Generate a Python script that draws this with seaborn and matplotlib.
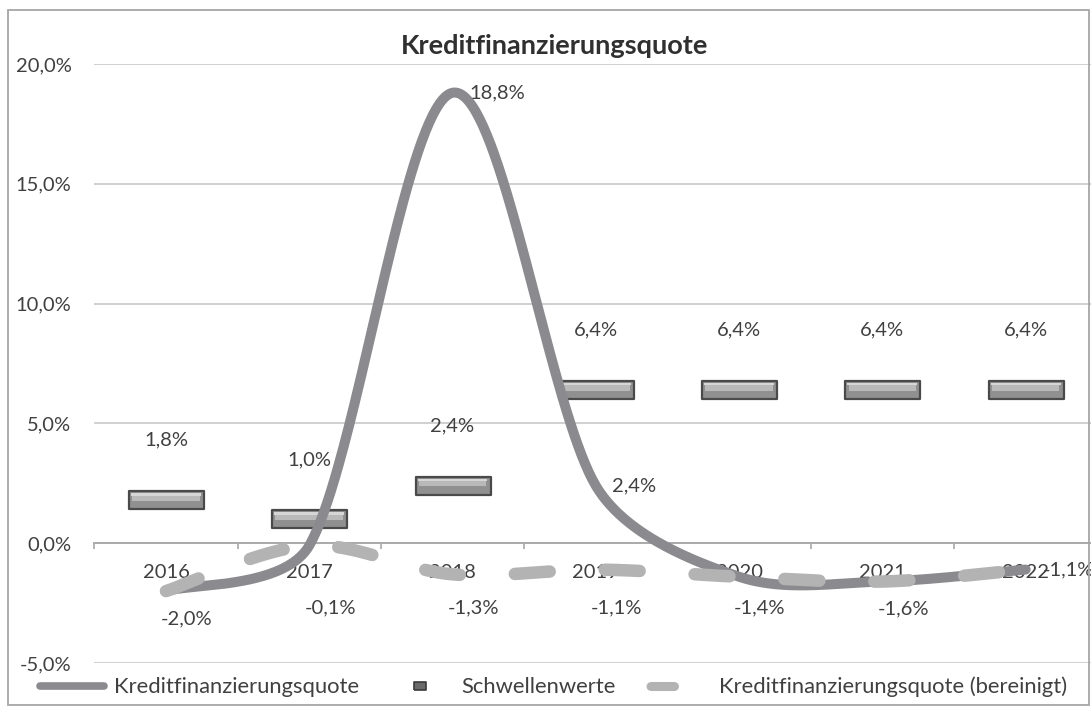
import numpy as np
import pandas as pd
import matplotlib
matplotlib.use("Agg")
import matplotlib.pyplot as plt
import seaborn as sns
from matplotlib.path import Path
from matplotlib.lines import Line2D
from matplotlib.patches import Rectangle
from matplotlib.ticker import FuncFormatter

# ---------------- data ----------------
years = ["2016", "2017", "2018", "2019", "2020", "2021", "2022"]
quote = [-2.0, -0.1, 18.8, 2.4, -1.4, -1.6, -1.1]
quote_bereinigt = [-2.0, -0.1, -1.3, -1.1, -1.4, -1.6, -1.1]
schwellenwerte = [1.8, 1.0, 2.4, 6.4, 6.4, 6.4, 6.4]
quote_label_idx = [2, 3, 6]
bereinigt_label_idx = [0, 1, 2, 3, 4, 5]
yticks = [-5, 0, 5, 10, 15, 20]
title = "Kreditfinanzierungsquote"
series_names = ["Kreditfinanzierungsquote", "Schwellenwerte",
                "Kreditfinanzierungsquote (bereinigt)"]

# ---------------- style ----------------
W, H = 1091, 708
sns.set_theme(style="white")
plt.rcParams["font.family"] = ["Lato", "DejaVu Sans"]
TXT = "#404040"
C_MAIN = "#8b8b8f"
C_DASH = "#b3b3b3"
C_BAR = "#909090"
C_BAR_EDGE = "#4a4a4a"
FS = 14.5

left_px, right_px, top_px, bot_px = 94.3, 1097.3, 64, 663
PX_X = (right_px - left_px) / len(years)
PX_Y = (bot_px - top_px) / (yticks[-1] - yticks[0])


def fmt(v):
    return f"{v:.1f}%".replace(".", ",")


def smooth(vals, n=80):
    """Excel-like smoothed line: Bezier segments with 1/6 tangents,
    limited to a third of the segment length (computed in screen space)."""
    p = np.array(vals, float)
    x = np.arange(len(p), dtype=float)
    pts = np.column_stack([x * PX_X, p * PX_Y])
    out = []
    m = len(pts)
    t = np.linspace(0, 1, n)[:, None]
    for i in range(m - 1):
        p0, p1 = pts[i], pts[i + 1]
        pm = pts[i - 1] if i > 0 else pts[i]
        pp = pts[i + 2] if i + 2 < m else pts[i + 1]
        chord = np.linalg.norm(p1 - p0)
        d1 = (p1 - pm) / 6.0
        d2 = (pp - p0) / 6.0
        for d in (d1, d2):
            L = np.linalg.norm(d)
            if L > chord / 3.0 and L > 0:
                d *= (chord / 3.0) / L
        b1 = p0 + d1
        b2 = p1 - d2
        seg = ((1 - t) ** 3) * p0 + 3 * ((1 - t) ** 2) * t * b1 \
            + 3 * (1 - t) * t ** 2 * b2 + t ** 3 * p1
        out.append(seg if i == 0 else seg[1:])
    arr = np.vstack(out)
    return pd.DataFrame({"x": arr[:, 0] / PX_X, "y": arr[:, 1] / PX_Y})


fig = plt.figure(figsize=(W / 100, H / 100), dpi=100)
fig.patch.set_facecolor("white")

ax = fig.add_axes([left_px / W, 1 - bot_px / H,
                   (right_px - left_px) / W, (bot_px - top_px) / H])
ax.set_facecolor("none")

xpos = np.arange(len(years))

# Schwellenwerte as bevelled horizontal bars (custom rectangle markers)
bar_verts = [(-1, -0.227), (1, -0.227), (1, 0.227), (-1, 0.227), (-1, -0.227)]
bar_path = Path(bar_verts, [Path.MOVETO] + [Path.LINETO] * 3 + [Path.CLOSEPOLY])
MS = 54.0
df_s = pd.DataFrame({"x": xpos, "y": schwellenwerte})
sns.scatterplot(data=df_s, x="x", y="y", marker=bar_path, s=MS ** 2,
                color=C_BAR, edgecolor=C_BAR_EDGE, linewidth=1.6,
                ax=ax, zorder=3, legend=False)
hi_verts = [(-0.9, -0.02), (0.9, -0.02), (0.9, 0.12), (-0.9, 0.12), (-0.9, -0.02)]
hi_path = Path(hi_verts, [Path.MOVETO] + [Path.LINETO] * 3 + [Path.CLOSEPOLY])
sns.scatterplot(data=df_s, x="x", y="y", marker=hi_path, s=(MS * 0.9) ** 2,
                color="#b9b9b9", edgecolor="none", linewidth=0,
                ax=ax, zorder=3.1, legend=False)
hi2_verts = [(-0.93, 0.12), (0.93, 0.12), (0.93, 0.19), (-0.93, 0.19), (-0.93, 0.12)]
hi2_path = Path(hi2_verts, [Path.MOVETO] + [Path.LINETO] * 3 + [Path.CLOSEPOLY])
sns.scatterplot(data=df_s, x="x", y="y", marker=hi2_path, s=(MS * 0.93) ** 2,
                color="#d6d6d6", edgecolor="none", linewidth=0,
                ax=ax, zorder=3.2, legend=False)

# main smoothed line
sns.lineplot(data=smooth(quote), x="x", y="y", sort=False, estimator=None,
             color=C_MAIN, linewidth=7.2, solid_capstyle="round",
             solid_joinstyle="round", ax=ax, zorder=4)
# adjusted smoothed dashed line
sns.lineplot(data=smooth(quote_bereinigt), x="x", y="y", sort=False,
             estimator=None, color=C_DASH, linewidth=9,
             linestyle=(0, (2.8, 4.4)), dash_capstyle="round",
             ax=ax, zorder=5)

# labels
for i, v in enumerate(schwellenwerte):
    ax.annotate(fmt(v), (i, v), xytext=(0, 43), textcoords="offset points",
                ha="center", va="center", fontsize=FS, color=TXT, zorder=6)
for i in bereinigt_label_idx:
    v = quote_bereinigt[i]
    ax.annotate(fmt(v), (i, min(v - 1.15, -2.7)), xytext=(15, 0),
                textcoords="offset points", ha="center", va="center",
                fontsize=FS, color=TXT, zorder=6)
for i in quote_label_idx:
    ax.annotate(fmt(quote[i]), (i, quote[i]), xytext=(12, 0),
                textcoords="offset points", ha="left", va="center",
                fontsize=FS, color=TXT, zorder=6)

# axes
ax.set_xlim(-0.5, len(years) - 0.5)
ax.set_ylim(yticks[0], yticks[-1])
ax.set_yticks(yticks)
ax.yaxis.set_major_formatter(FuncFormatter(lambda v, p: fmt(v)))
ax.yaxis.grid(True, color="#c4c4c4", linewidth=1.1)
ax.set_axisbelow(True)
for s in ["left", "right", "top"]:
    ax.spines[s].set_visible(False)
ax.spines["bottom"].set_position(("data", 0))
ax.spines["bottom"].set_color("#a8a8a8")
ax.spines["bottom"].set_linewidth(1.3)
ax.set_xticks(xpos)
ax.set_xticklabels(years)
ax.set_xticks(np.arange(-0.5, len(years), 1.0), minor=True)
ax.tick_params(axis="x", which="major", length=0, pad=15, labelsize=FS,
               labelcolor=TXT)
ax.tick_params(axis="x", which="minor", length=4.5, width=1.2,
               color="#a8a8a8", direction="out", bottom=True)
ax.tick_params(axis="y", length=0, pad=16.5, labelsize=FS, labelcolor=TXT)
for lab in ax.get_yticklabels():
    lab.set_horizontalalignment("right")
ax.set_xlabel("")
ax.set_ylabel("")

# title
fig.text(555 / W, 1 - 46 / H, title, ha="center", va="center",
         fontsize=19.5, fontweight="bold", color="#303030")

# legend
h_main = Line2D([], [], color=C_MAIN, linewidth=5.5, solid_capstyle="round")
h_bar = Line2D([], [], linestyle="none", marker=Path(
    [(-1, -0.8), (1, -0.8), (1, 0.8), (-1, 0.8), (-1, -0.8)]),
    markersize=8, markerfacecolor="#6a6a6a", markeredgecolor="#3a3a3a",
    markeredgewidth=1.2)
h_dash = Line2D([], [], color=C_DASH, linewidth=6.5,
                linestyle=(12.1, (2.6, 10)), dash_capstyle="round")
LFS = 15.8
fig.legend([h_main, h_bar, h_dash], series_names, loc="center left",
           bbox_to_anchor=(40 / W, 1 - 687 / H), ncol=3, frameon=False,
           fontsize=LFS, handlelength=2.9, handletextpad=0.45,
           columnspacing=1.35, borderpad=0, borderaxespad=0,
           labelcolor=TXT)

# outer chart border
fig.add_artist(Rectangle((8 / W, 3 / H), (1089 - 8) / W, (705 - 10) / H,
                         transform=fig.transFigure, fill=False,
                         edgecolor="#a6a6a6", linewidth=1.3, zorder=10))

fig.savefig("out.png", dpi=100, facecolor="white")
